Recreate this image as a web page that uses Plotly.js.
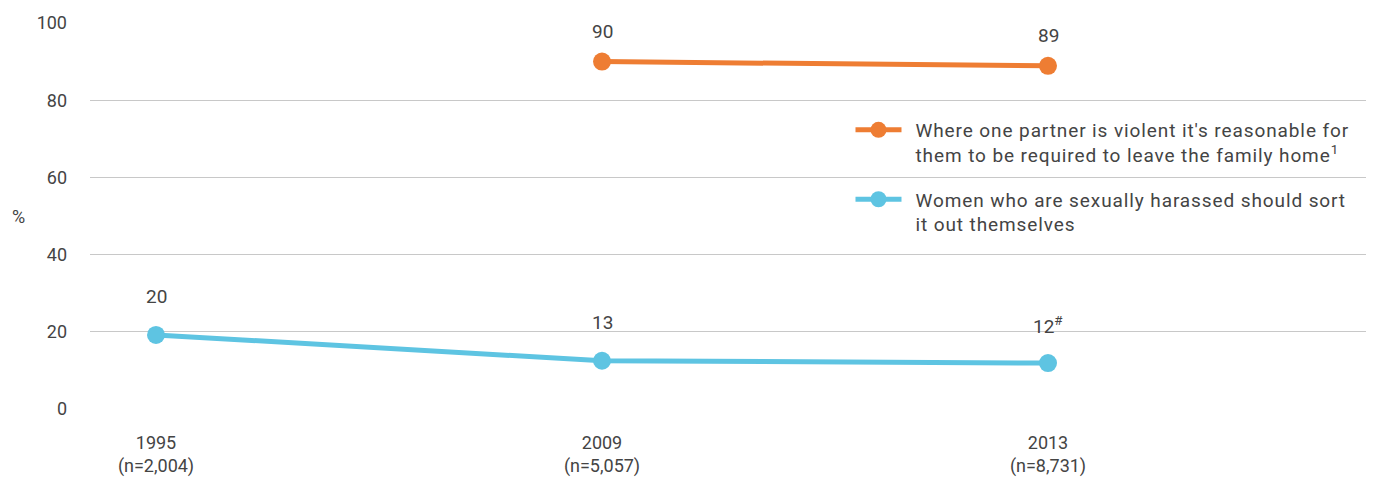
<!DOCTYPE html>
<html>
<head>
<meta charset="utf-8">
<script src="https://cdn.plot.ly/plotly-3.0.1.min.js"></script>
<style>
html,body{margin:0;padding:0;background:#fff}
#chart{width:1373px;height:479px}
#chart .legendtext{letter-spacing:0.9px;transform:translateX(9px)}
</style>
</head>
<body>
<div id="chart"></div>
<script>
const categories = ['1995', '2009', '2013'];
const tickLabels = ['1995<br>(n=2,004)', '2009<br>(n=5,057)', '2013<br>(n=8,731)'];
const violentValues = [null, 90.0, 88.9];
const violentLabels = ['', '90', '89'];
const harassedValues = [19.2, 12.5, 11.9];
const harassedLabels = ['20', '13', '12<sup>#</sup>'];
const seriesNames = [
  "Where one partner is violent it's reasonable for<br>them to be required to leave the family home<sup>1</sup>",
  "Women who are sexually harassed should sort<br>it out themselves"
];

const orange = '#ee7d33';
const blue = '#5ec4e2';
const textColor = '#444444';
const fontFam = 'Roboto, "DejaVu Sans", sans-serif';

const traces = [
  {x: categories, y: violentValues, name: seriesNames[0], type: 'scatter', mode: 'lines+markers',
   line: {color: orange, width: 5}, marker: {color: orange, size: 18}, legendgroup: 'a', connectgaps: false},
  {x: categories, y: harassedValues, name: seriesNames[1], type: 'scatter', mode: 'lines+markers',
   line: {color: blue, width: 5}, marker: {color: blue, size: 18}, legendgroup: 'b'}
];

const annotations = [];
categories.forEach((c, i) => {
  if (violentValues[i] !== null) annotations.push({xref: 'x', yref: 'y', x: i, y: violentValues[i], text: violentLabels[i], showarrow: false,
    yshift: 30, font: {size: 19, color: textColor, family: fontFam}});
  if (harassedValues[i] !== null) annotations.push({xref: 'x', yref: 'y', x: i, y: harassedValues[i], text: harassedLabels[i], showarrow: false,
    yshift: 38, font: {size: 19, color: textColor, family: fontFam}});
});
annotations.push({xref: 'paper', yref: 'paper', x: -0.056, y: 0.5, xanchor: 'center', yanchor: 'middle',
  text: '%', showarrow: false, font: {size: 18, color: textColor, family: fontFam}});

const layout = {
  width: 1373, height: 479,
  margin: {l: 90, r: 7, t: 23, b: 70},
  paper_bgcolor: '#fff', plot_bgcolor: '#fff',
  font: {family: fontFam, size: 18, color: textColor},
  showlegend: true,
  legend: {x: 0.596, y: 0.772, xanchor: 'left', yanchor: 'top', valign: 'top', itemwidth: 46,
    tracegroupgap: 17, bgcolor: 'rgba(0,0,0,0)', font: {size: 19, color: textColor, family: fontFam}},
  xaxis: {type: 'category', range: [-0.148, 2.713], tickvals: categories, ticktext: tickLabels,
    showgrid: false, showline: false, zeroline: false, ticks: '', ticklabelstandoff: 21, fixedrange: true},
  yaxis: {range: [0, 100], tickvals: [0, 20, 40, 60, 80, 100], showgrid: true, gridcolor: '#c8c8c8', gridwidth: 1,
    zeroline: false, showline: false, ticks: '', ticklabelstandoff: 22, fixedrange: true},
  annotations: annotations
};

Plotly.newPlot('chart', traces, layout, {displayModeBar: false, staticPlot: true}).then(() => {
  document.querySelectorAll('#chart .legend .scrollbox, #chart .legend').forEach(e => e.removeAttribute('clip-path'));
});
</script>
</body>
</html>
